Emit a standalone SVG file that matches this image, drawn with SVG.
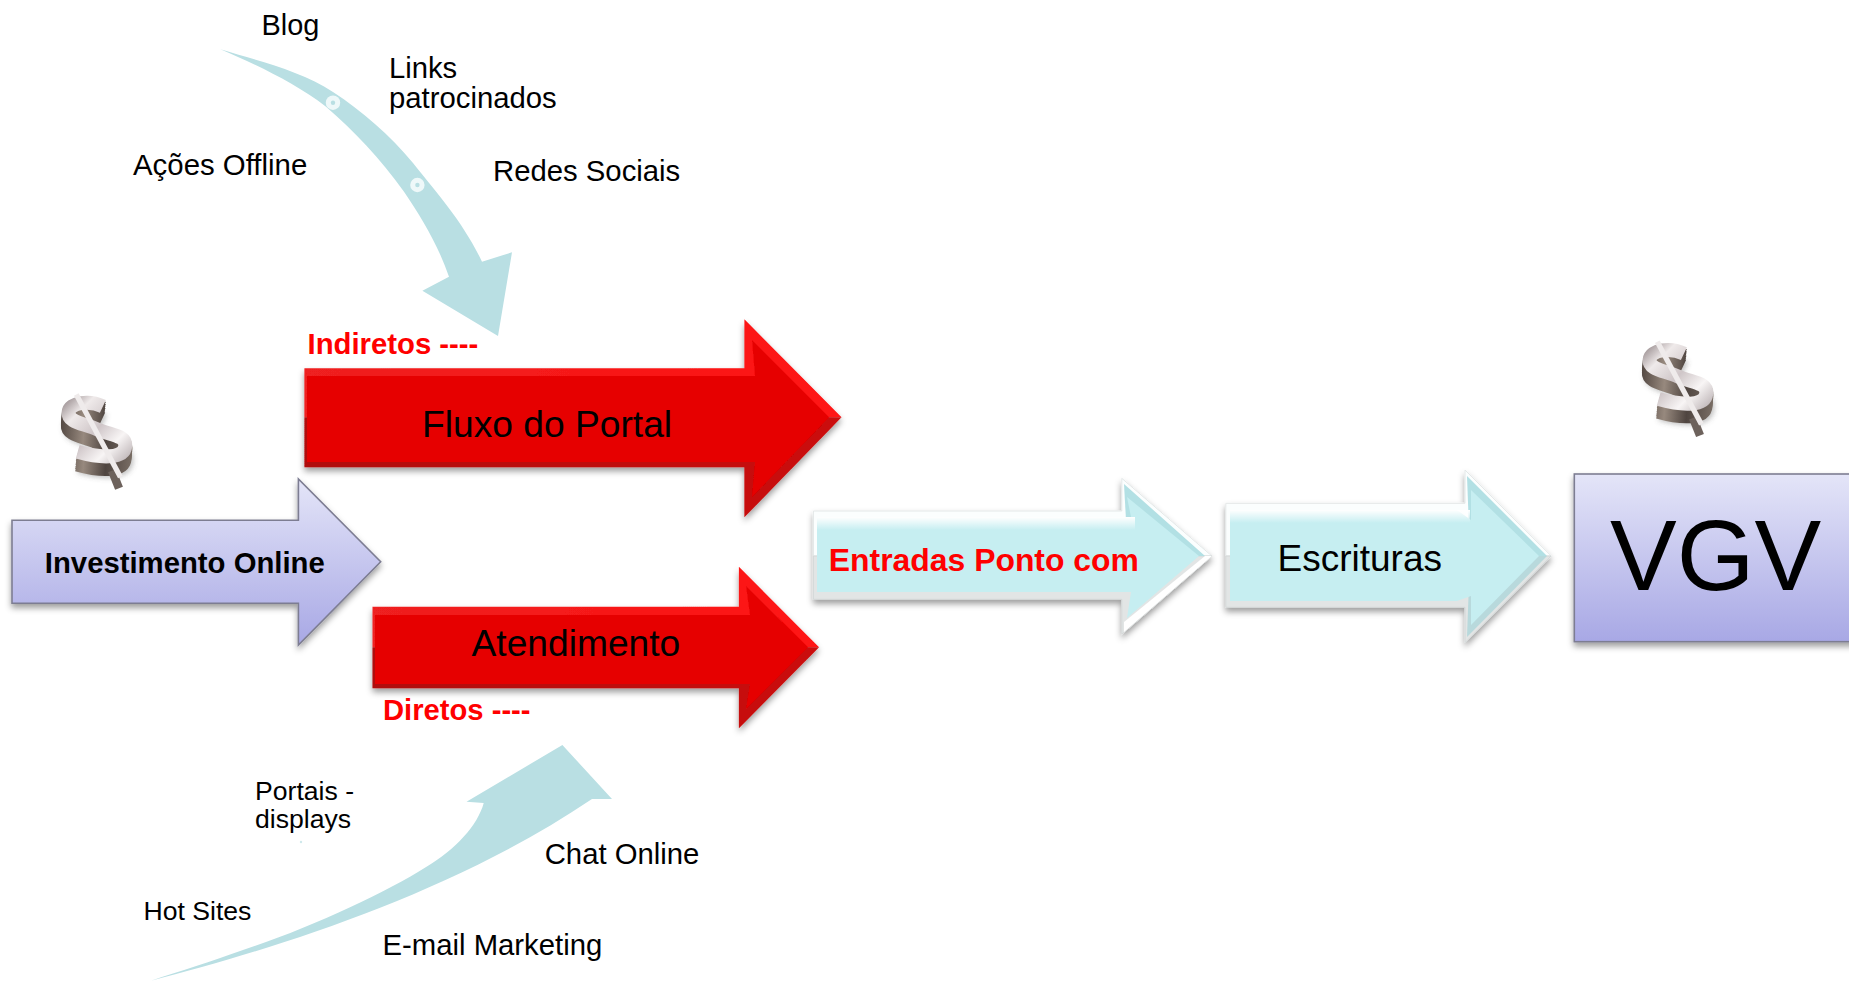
<svg xmlns="http://www.w3.org/2000/svg" xmlns:xlink="http://www.w3.org/1999/xlink" width="1849" height="981" viewBox="0 0 1849 981">
<style>
text{font-family:"Liberation Sans",Arial,sans-serif;fill:#000}
.b{font-weight:bold}
.r{fill:#f00;font-weight:bold}
.sw{fill:#b9dfe3}
.ru{fill:url(#redUp)}.rl{fill:url(#redLow)}.rm{fill:#e60505}
.cu{fill:#fbfefe;stroke:#e4e8e8;stroke-width:1}.cl{fill:#e2e5e5;stroke:#d4d8d8;stroke-width:1}.ch{fill:#b2e0e4}.cm{fill:#c6eef1}
.fade{fill:url(#topStrip)}
.p{fill:url(#purple);stroke:#7d7d92;stroke-width:1.6}
</style>
<defs>
<linearGradient id="purple" x1="0" y1="0" x2="0" y2="1"><stop offset="0" stop-color="#e4e5f8"/><stop offset="1" stop-color="#a8a8e5"/></linearGradient>
<linearGradient id="redUp" x1="0" y1="0" x2="1" y2="0"><stop offset="0" stop-color="#ee2020"/><stop offset="1" stop-color="#ff1212"/></linearGradient>
<linearGradient id="redLow" x1="0" y1="0" x2="1" y2="0"><stop offset="0" stop-color="#b00b0b"/><stop offset="1" stop-color="#cb0808"/></linearGradient>
<linearGradient id="topStrip" x1="0" y1="0" x2="0" y2="1"><stop offset="0" stop-color="#fff"/><stop offset="1" stop-color="#fff" stop-opacity="0"/></linearGradient>
<linearGradient id="silver" gradientUnits="userSpaceOnUse" x1="80" y1="60" x2="260" y2="240"><stop offset="0" stop-color="#978b8d"/><stop offset=".22" stop-color="#efeaea"/><stop offset=".5" stop-color="#cfc6c8"/><stop offset=".75" stop-color="#f8f5f5"/><stop offset="1" stop-color="#bdb4b6"/></linearGradient>
<linearGradient id="side" gradientUnits="userSpaceOnUse" x1="70" y1="0" x2="280" y2="0"><stop offset="0" stop-color="#554a44"/><stop offset=".3" stop-color="#97897e"/><stop offset=".6" stop-color="#4f4540"/><stop offset="1" stop-color="#7d7168"/></linearGradient>
<filter id="sh" x="-10%" y="-10%" width="120%" height="125%"><feDropShadow dx="0" dy="4" stdDeviation="3" flood-color="#000" flood-opacity=".38"/></filter>
<filter id="blur" x="-30%" y="-30%" width="160%" height="160%"><feGaussianBlur stdDeviation="7"/></filter>
<path id="s" d="M188 84C150 66 92 72 90 102C88 130 132 132 172 150C212 167 255 166 252 198C248 236 180 232 116 214"/>
<g id="dollar" transform="scale(.35)" fill="none">
<use href="#s" stroke="#555" stroke-opacity=".35" stroke-width="40" transform="translate(4 42)" filter="url(#blur)"/>
<g stroke="url(#side)" stroke-width="40">
<use href="#s" transform="translate(-2 36)"/>
<use href="#s" transform="translate(-2 30)"/>
<use href="#s" transform="translate(-1 24)"/>
<use href="#s" transform="translate(-1 18)"/>
<use href="#s" transform="translate(0 12)"/>
<use href="#s" transform="translate(0 6)"/>
</g>
<path d="M214 268L234 318" stroke="#6d625c" stroke-width="24"/>
<use href="#s" stroke="url(#silver)" stroke-width="40"/>
<path d="M112 50L238 286" stroke="#efebeb" stroke-width="15"/>
</g>
</defs>
<rect width="1849" height="981" fill="#fff"/>

<g id="connectors">
<path id="arrow-indiretos" class="sw" d="M220.4 49.3C255 60 300 70 333 92C362 111 390 135 413 163C440 197 463 222 482 261.7L512 252.3L498 336L422.4 290.7L449 276.7C438 245 422 218 404 191.7C380 158 354 131 326 106.7C295 83 255 64 220.4 49.3Z"/>
<circle cx="333" cy="102.7" r="7.2" fill="#eef8f9"/><circle cx="333" cy="102.7" r="2.2" fill="#b9dfe3"/>
<circle cx="417.4" cy="185" r="7.2" fill="#eef8f9"/><circle cx="417.4" cy="185" r="2.2" fill="#b9dfe3"/>
<path id="arrow-diretos" class="sw" d="M151 980.7C270 950 450 895 592 799L612 799L562.4 745L466.5 801.7L483.7 803C478 825 455 850 426.5 866.7C385 893 310 928 243 950C210 962 180 971 151 980.7Z"/>
<circle cx="301" cy="842" r="1.2" fill="#cfe9ec"/>
</g>

<use id="dollar-left" href="#dollar" transform="translate(37.1 376.9)"/>
<use id="dollar-right" href="#dollar" transform="translate(1618.1 324.2)"/>

<g id="investimento"><path class="p" filter="url(#sh)" d="M12 520.3H298.4V479L380.7 561.7L298.4 645V603.3H12Z"/>
<text class="b" x="44.8" y="573.3" font-size="29.3">Investimento Online</text></g>

<g id="fluxo"><g filter="url(#sh)">
<polygon class="ru" points="304.4,368.3 744.4,368.3 744.4,319.3 841.5,417.3 304.4,417.3"/>
<polygon class="rl" points="304.4,417.3 841.5,417.3 744.4,517.3 744.4,467.3 304.4,467.3"/>
<polygon class="rm" points="307,376 755,376 752,340 829,417.3 752,497 755,462 307,462"/></g>
<text x="422" y="437" font-size="37.2">Fluxo do Portal</text></g>

<g id="atendimento"><g filter="url(#sh)">
<polygon class="ru" points="372.5,606.7 738.9,606.7 738.9,566.7 819,647.3 372.5,647.3"/>
<polygon class="rl" points="372.5,647.3 819,647.3 738.9,728.3 738.9,688.3 372.5,688.3"/>
<polygon class="rm" points="375,615 750,615 746,586 808,647.3 746,709 750,684 375,684"/></g>
<text x="471.5" y="656" font-size="37.2">Atendimento</text></g>

<g id="entradas"><g filter="url(#sh)">
<polygon class="cu" points="813.4,511 1121.8,511 1121.8,478.3 1211.9,556 813.4,556"/>
<polygon class="cl" points="813.4,556 1211.9,556 1121.8,634.3 1121.8,599.3 813.4,599.3"/>
<polygon class="ch" points="1124,484 1205,556 1128,556"/>
<polygon fill="#fff" points="1205,556 1211.9,556 1124,632 1124,622"/>
<polygon class="cm" points="817,517 1131,517 1127,497 1199,556 1127,618 1131,592 817,592"/>
<rect class="fade" x="817" y="517" width="318" height="13"/></g>
<text class="r" x="828.8" y="571" font-size="31.9">Entradas Ponto com</text></g>

<g id="escrituras"><g filter="url(#sh)">
<polygon class="cu" points="1225.8,503.3 1465,503.3 1465,470 1551.2,556 1225.8,556"/>
<polygon class="cl" points="1225.8,556 1551.2,556 1465,642.7 1465,607.3 1225.8,607.3"/>
<polygon class="ch" points="1467,476 1547,556 1470,556"/>
<polygon fill="#b8d9dc" points="1547,556 1467,637 1470,556"/>
<polygon class="cm" points="1230,510 1457,510 1471,520 1471,490 1539,556 1471,625 1471,596 1457,601 1230,601"/>
<rect class="fade" x="1230" y="510" width="240" height="13"/></g>
<text x="1277.5" y="571" font-size="37">Escrituras</text></g>

<g id="vgv"><rect class="p" filter="url(#sh)" x="1574.3" y="474" width="290" height="167.7"/>
<text x="1610" y="590" font-size="100">VGV</text></g>

<g id="labels">
<text x="261.6" y="35" font-size="28.9">Blog</text>
<text x="389" y="78.3" font-size="29.2">Links</text>
<text x="389" y="108.3" font-size="29.3">patrocinados</text>
<text x="133" y="175" font-size="29.4">Ações Offline</text>
<text x="493" y="181" font-size="29.3">Redes Sociais</text>
<text class="r" x="307.5" y="354.3" font-size="29.3">Indiretos ----</text>
<text class="r" x="383" y="720.3" font-size="29.2">Diretos ----</text>
<text x="255" y="800" font-size="26.6">Portais -</text>
<text x="255" y="827.7" font-size="26.6">displays</text>
<text x="143.5" y="920.3" font-size="26.6">Hot Sites</text>
<text x="544.7" y="863.7" font-size="29.3">Chat Online</text>
<text x="382.5" y="955.3" font-size="29.3">E-mail Marketing</text>
</g>
</svg>
